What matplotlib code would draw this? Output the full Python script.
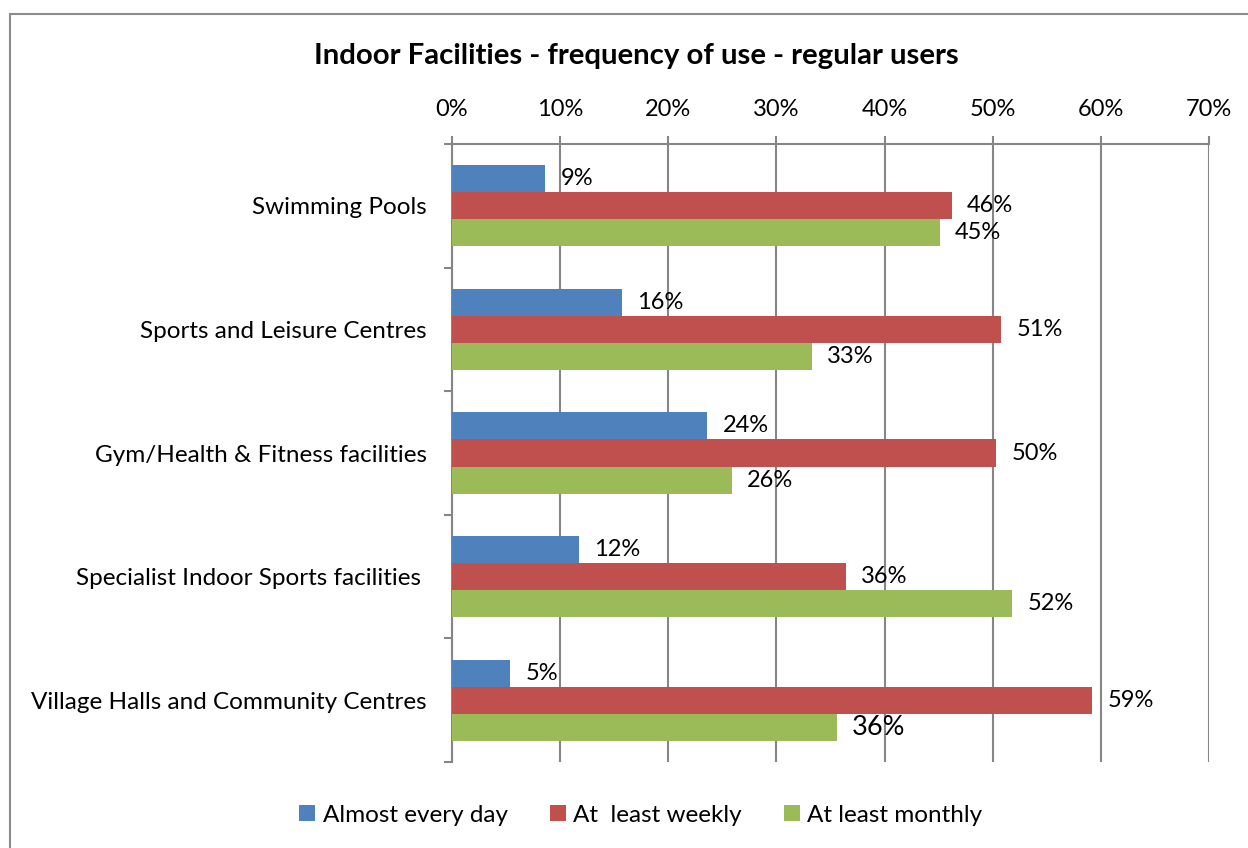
import matplotlib.pyplot as plt
from matplotlib.patches import Rectangle
from matplotlib.ticker import FixedLocator, PercentFormatter
import numpy as np

plt.rcParams['font.family'] = ['Lato', 'DejaVu Sans']

facilities = ['Swimming Pools', 'Sports and Leisure Centres', 'Gym/Health & Fitness facilities',
              'Specialist Indoor Sports facilities ', 'Village Halls and Community Centres']
series = ['Almost every day', 'At  least weekly', 'At least monthly']
daily = [8.6, 15.7, 23.6, 11.7, 5.4]
weekly = [46.2, 50.8, 50.3, 36.4, 59.2]
monthly = [45.1, 33.3, 25.9, 51.8, 35.6]
colors = ['#4F81BD', '#C0504D', '#9BBB59']
grid_col = '#868686'

fig = plt.figure(figsize=(12.48, 8.48), dpi=100)
ax = fig.add_axes([452 / 1248, 86 / 848, 757 / 1248, 618 / 848])

# chart area frame
fig.patches.append(Rectangle((10 / 1248, -0.05), 1.1, 0.05 + 834 / 848, transform=fig.transFigure,
                             fill=False, edgecolor='#8c8c8c', linewidth=1.5))

y = np.arange(len(facilities))
h = 0.2185
for i, (vals, name, c) in enumerate(zip([daily, weekly, monthly], series, colors)):
    pos = y + (i - 1) * h
    ax.barh(pos, vals, height=h, color=c, label=name, zorder=3)
    for p, v in zip(pos, vals):
        size = 19.5 if (i == 2 and p > 3.5) else 17
        ax.annotate(f'{v:.0f}%', (v, p), xytext=(11, 0), textcoords='offset points',
                    va='center', ha='left', fontsize=size, color='black')

ax.set_xlim(0, 70)
ax.set_ylim(len(facilities) - 0.5, -0.5)
ax.xaxis.set_major_locator(FixedLocator(np.arange(0, 71, 10)))
ax.xaxis.set_major_formatter(PercentFormatter(decimals=0))
ax.xaxis.tick_top()
ax.tick_params(axis='x', direction='out', length=6, width=1.5, color=grid_col, pad=11, labelsize=17)
ax.grid(axis='x', color=grid_col, linewidth=1.5, zorder=0)

ax.set_yticks(y)
ax.set_yticklabels(facilities)
ax.yaxis.set_minor_locator(FixedLocator(np.arange(-0.5, len(facilities), 1)))
ax.tick_params(axis='y', which='major', length=0, pad=18, labelsize=17.5)
ax.tick_params(axis='y', which='minor', direction='out', length=6, width=1.5, color=grid_col)

for s in ['right', 'bottom']:
    ax.spines[s].set_visible(False)
for s in ['top', 'left']:
    ax.spines[s].set_color(grid_col)
    ax.spines[s].set_linewidth(1.5)

fig.text(636 / 1248, 1 - 56 / 848, 'Indoor Facilities - frequency of use - regular users',
         ha='center', va='center', fontsize=21.2, fontweight='bold')

fig.legend(loc='center', bbox_to_anchor=(641 / 1248, 1 - 815 / 848), ncol=3, frameon=False,
           fontsize=17.5, handlelength=0.65, handleheight=0.65, handletextpad=0.3, columnspacing=1.75)

fig.savefig('out.png', dpi=100)
